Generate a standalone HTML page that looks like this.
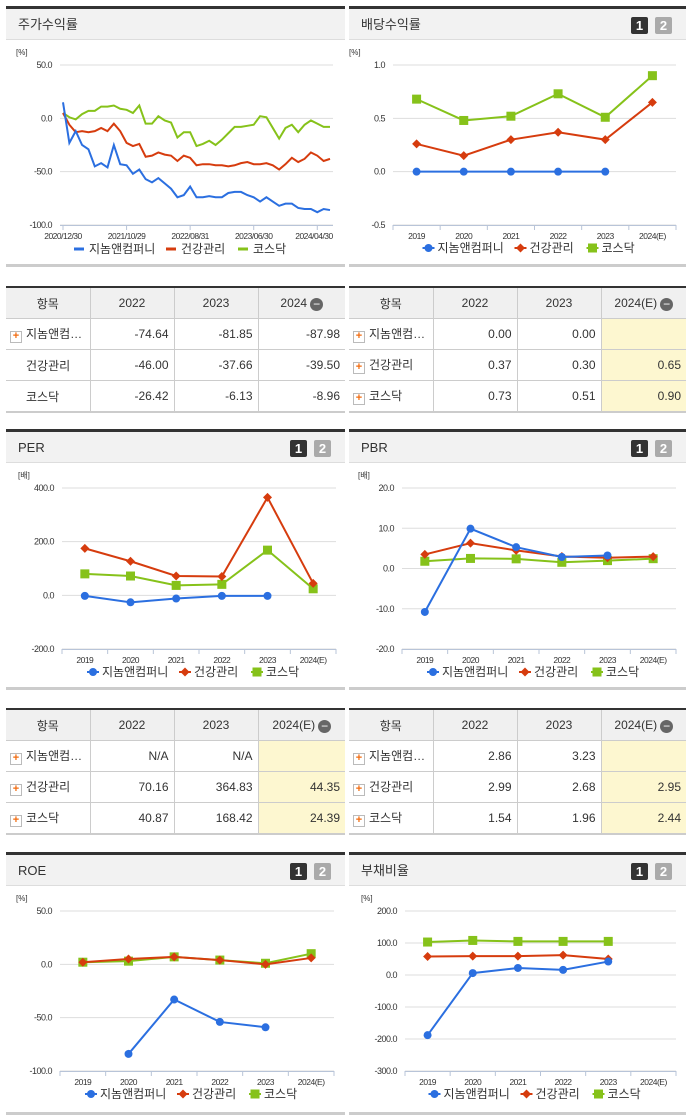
<!DOCTYPE html>
<html><head><meta charset="utf-8">
<style>
body{margin:0;width:691px;height:1115px;background:#fff;position:relative;overflow:hidden;font-family:"Liberation Sans","Noto Sans CJK KR",sans-serif;color:#333}
.pan{position:absolute;border-top:3px solid #333;background:#fff}
.hd{position:absolute;left:0;right:0;top:0;height:31px;background:#f2f2f2;border-bottom:1px solid #ddd;font-size:13px;line-height:31px;padding-left:12px;box-sizing:border-box}
.bt{position:absolute;top:8px;width:17px;height:17px;color:#fff;font-weight:bold;font-size:13px;line-height:17px;text-align:center;border-radius:2px}
.b1{right:38px;background:#333}.b2{right:14px;background:#aaa}
.pbot{position:absolute;left:0;right:0;bottom:0;height:3px;background:#ccc}
table{position:absolute;border-collapse:collapse;border-top:2px solid #333;border-bottom:2px solid #ccc;font-size:12px;table-layout:fixed}
td,th{border:1px solid #ccc;height:30px;padding:0 5px;font-weight:normal}
th{background:#f0f0f0;text-align:center}
td{text-align:right}
td.n{text-align:left;padding-left:4px;white-space:nowrap}
.pl{display:inline-block;width:10px;height:10px;border:1px solid #bbb;background:#fff;color:#f26b0f;font-size:11px;line-height:9px;text-align:center;margin-right:4px;vertical-align:-1px;font-weight:bold}
.mi{display:inline-block;width:13px;height:13px;border-radius:50%;background:#666;color:#fff;line-height:12px;font-size:12px;vertical-align:-1px;margin-left:3px}
.y{background:#fdf7d0}
tr td:first-child{border-left:none}tr td:last-child,tr th:last-child{border-right:none}tr th:first-child{border-left:none}
</style></head><body>

<div class="pan" style="left:6px;top:6px;width:339px;height:258px"><div class="hd">주가수익률</div><div class="pbot"></div></div>
<div class="pan" style="left:349px;top:6px;width:337px;height:258px"><div class="hd">배당수익률</div><div class="bt b1">1</div><div class="bt b2">2</div><div class="pbot"></div></div>

<div class="pan" style="left:6px;top:429px;width:339px;height:258px"><div class="hd">PER</div><div class="bt b1">1</div><div class="bt b2">2</div><div class="pbot"></div></div>
<div class="pan" style="left:349px;top:429px;width:337px;height:258px"><div class="hd">PBR</div><div class="bt b1">1</div><div class="bt b2">2</div><div class="pbot"></div></div>

<div class="pan" style="left:6px;top:852px;width:339px;height:260px"><div class="hd">ROE</div><div class="bt b1">1</div><div class="bt b2">2</div><div class="pbot"></div></div>
<div class="pan" style="left:349px;top:852px;width:337px;height:260px"><div class="hd">부채비율</div><div class="bt b1">1</div><div class="bt b2">2</div><div class="pbot"></div></div>

<table style="left:6px;top:286px;width:339px">
<colgroup><col style="width:84px"><col style="width:84px"><col style="width:84px"><col></colgroup>
<tr><th>항목</th><th>2022</th><th>2023</th><th>2024<span class="mi">−</span></th></tr>
<tr><td class="n"><span class="pl">+</span>지놈앤컴…</td><td>-74.64</td><td>-81.85</td><td>-87.98</td></tr>
<tr><td class="n" style="padding-left:20px">건강관리</td><td>-46.00</td><td>-37.66</td><td>-39.50</td></tr>
<tr><td class="n" style="padding-left:20px">코스닥</td><td>-26.42</td><td>-6.13</td><td>-8.96</td></tr>
</table>
<table style="left:349px;top:286px;width:337px">
<colgroup><col style="width:84px"><col style="width:84px"><col style="width:84px"><col></colgroup>
<tr><th>항목</th><th>2022</th><th>2023</th><th>2024(E)<span class="mi">−</span></th></tr>
<tr><td class="n"><span class="pl">+</span>지놈앤컴…</td><td>0.00</td><td>0.00</td><td class="y"></td></tr>
<tr><td class="n"><span class="pl">+</span>건강관리</td><td>0.37</td><td>0.30</td><td class="y">0.65</td></tr>
<tr><td class="n"><span class="pl">+</span>코스닥</td><td>0.73</td><td>0.51</td><td class="y">0.90</td></tr>
</table>
<table style="left:6px;top:708px;width:339px">
<colgroup><col style="width:84px"><col style="width:84px"><col style="width:84px"><col></colgroup>
<tr><th>항목</th><th>2022</th><th>2023</th><th>2024(E)<span class="mi">−</span></th></tr>
<tr><td class="n"><span class="pl">+</span>지놈앤컴…</td><td>N/A</td><td>N/A</td><td class="y"></td></tr>
<tr><td class="n"><span class="pl">+</span>건강관리</td><td>70.16</td><td>364.83</td><td class="y">44.35</td></tr>
<tr><td class="n"><span class="pl">+</span>코스닥</td><td>40.87</td><td>168.42</td><td class="y">24.39</td></tr>
</table>
<table style="left:349px;top:708px;width:337px">
<colgroup><col style="width:84px"><col style="width:84px"><col style="width:84px"><col></colgroup>
<tr><th>항목</th><th>2022</th><th>2023</th><th>2024(E)<span class="mi">−</span></th></tr>
<tr><td class="n"><span class="pl">+</span>지놈앤컴…</td><td>2.86</td><td>3.23</td><td class="y"></td></tr>
<tr><td class="n"><span class="pl">+</span>건강관리</td><td>2.99</td><td>2.68</td><td class="y">2.95</td></tr>
<tr><td class="n"><span class="pl">+</span>코스닥</td><td>1.54</td><td>1.96</td><td class="y">2.44</td></tr>
</table>

<svg id="sv" width="691" height="1115" style="position:absolute;left:0;top:0" xmlns="http://www.w3.org/2000/svg"></svg>

<script>
const NAMES=['지놈앤컴퍼니','건강관리','코스닥'];
const COLORS=['#2b6fe0','#d63c0e','#86c21a'];
const yearCats=['2019','2020','2021','2022','2023','2024(E)'];
// stock return (%)
const stockDates=['2020/12/30','2021/10/29','2022/08/31','2023/06/30','2024/04/30'];
const stockDateIdx=[0,10,20,30,40];
const stockJinome=[15,-23,-12,-25,-29,-45,-42,-46,-25,-43,-44,-52,-48,-57,-60,-56,-61,-66,-74,-72,-64,-74,-74,-73,-74,-74,-70,-69,-69,-72,-74,-78,-74,-78,-82,-80,-80,-84,-85,-85,-88,-85,-86];
const stockHealth=[5,-6,-13,-12,-13,-12,-9,-12,-5,-12,-23,-26,-24,-36,-35,-32,-34,-35,-40,-35,-37,-44,-43,-43,-44,-44,-45,-44,-42,-41,-43,-43,-42,-44,-48,-43,-37,-41,-38,-32,-35,-40,-38];
const stockKosdaq=[5,1,-1,4,7,7,11,11,12,9,8,5,12,-5,-5,2,-2,-4,-18,-13,-13,-26,-24,-21,-25,-20,-14,-8,-8,-7,-6,2,1,-9,-19,-9,-6,-13,-6,-2,-5,-8,-8];
const stockTicks=[50,0,-50,-100];
// dividend yield (%)
const divJinome=[0,0,0,0,0,null];
const divHealth=[0.26,0.15,0.30,0.37,0.30,0.65];
const divKosdaq=[0.68,0.48,0.52,0.73,0.51,0.90];
const divTicks=[1.0,0.5,0.0,-0.5];
// PER
const perJinome=[-2,-26,-12,-2,-2,null];
const perHealth=[175,127,72,70.16,364.83,44.35];
const perKosdaq=[80,72,37,40.87,168.42,24.39];
const perTicks=[400,200,0,-200];
// PBR
const pbrJinome=[-10.8,9.9,5.3,2.86,3.23,null];
const pbrHealth=[3.5,6.3,4.5,2.99,2.68,2.95];
const pbrKosdaq=[1.8,2.5,2.4,1.54,1.96,2.44];
const pbrTicks=[20,10,0,-10,-20];
// ROE
const roeJinome=[null,-84,-33,-54,-59,null];
const roeHealth=[2,5,7,4,0,6];
const roeKosdaq=[2,3,7,4,1,10];
const roeTicks=[50,0,-50,-100];
// debt ratio
const debtJinome=[-188,6,22,16,42,null];
const debtHealth=[58,59,59,62,50,null];
const debtKosdaq=[103,108,105,105,105,null];
const debtTicks=[200,100,0,-100,-200,-300];

const sv=document.getElementById('sv');
const NS='http://www.w3.org/2000/svg';
function el(t,a,txt){const e=document.createElementNS(NS,t);for(const k in a)e.setAttribute(k,a[k]);if(txt!=null)e.textContent=txt;sv.appendChild(e);return e;}
function marker(i,x,y,c){let m;
 if(i===0)m=el('circle',{cx:x,cy:y,r:4,fill:c});
 else if(i===1)m=el('path',{d:`M${x} ${y-4.5}L${x+4.5} ${y}L${x} ${y+4.5}L${x-4.5} ${y}Z`,fill:c});
 else m=el('rect',{x:x-4.5,y:y-4.5,width:9,height:9,fill:c});
 return m;}
function frame(c,unit,ticks,min,max){
 const ys=v=>c.top+(max-v)/(max-min)*(c.bot-c.top);
 const u=el('text',{x:c.x0-44,y:c.top-10,'font-size':8,fill:'#333'},unit);
 
 
 ticks.forEach(t=>{const y=ys(t);
  const g=el('line',{x1:c.x0,x2:c.x1,y1:y,y2:y,stroke:'#ddd','stroke-width':1});
  
  
  const lb=el('text',{x:c.x0-8,y:y+3,'font-size':9,'text-anchor':'end',fill:'#333','letter-spacing':'-0.5'},t.toFixed(1));
  
  });
 el('line',{x1:c.x0,x2:c.x1,y1:c.bot+0.5,y2:c.bot+0.5,stroke:'#b8c4d8','stroke-width':1});
 return ys;}
function legend(cx,y,lineStyle){
 const w=[92,72,52];let x=cx-108;
 NAMES.forEach((n,i)=>{
  if(lineStyle)el('line',{x1:x,x2:x+10,y1:y-4,y2:y-4,stroke:COLORS[i],'stroke-width':3});
  else{el('line',{x1:x,x2:x+12,y1:y-4,y2:y-4,stroke:COLORS[i],'stroke-width':2});marker(i,x+6,y-4,COLORS[i]);}
  const t=el('text',{x:x+15,y:y,'font-size':12,fill:'#333'},n);
  
  
  x+=w[i];});}
function catChart(c,unit,ticks,min,max,series){
 const ys=frame(c,unit,ticks,min,max);
 const bw=(c.x1-c.x0)/yearCats.length;
 const xs=i=>c.x0+bw*(i+0.5);
 for(let i=0;i<=yearCats.length;i++)el('line',{x1:c.x0+bw*i,x2:c.x0+bw*i,y1:c.bot,y2:c.bot+5,stroke:'#b8c4d8'});
 yearCats.forEach((k,i)=>{const t=el('text',{x:xs(i),y:c.bot+14,'font-size':8.5,'text-anchor':'middle',fill:'#333','letter-spacing':'-0.5'},k);
  
  });
 [2,1,0].forEach(si=>{const vals=series[si];let d='';
  vals.forEach((v,i)=>{if(v==null)return;d+=(d?'L':'M')+xs(i)+' '+ys(v);});
  const p=el('path',{d:d,fill:'none',stroke:COLORS[si],'stroke-width':2});
  
  
  vals.forEach((v,i)=>{if(v==null)return;const m=marker(si,xs(i),ys(v),COLORS[si]);
   
   });});
 legend((c.x0+c.x1)/2-4,c.bot+27,false);}

// stock chart
(function(){const c={x0:60,x1:333,top:65,bot:225};
 const ys=frame(c,'[%]',stockTicks,-100,50);
 const n=stockJinome.length,px0=63,px1=330;
 const xs=i=>px0+(px1-px0)*i/(n-1);
 stockDates.forEach((d,k)=>{const x=xs(stockDateIdx[k]);
  el('line',{x1:x,x2:x,y1:c.bot,y2:c.bot+5,stroke:'#b8c4d8'});
  const t=el('text',{x:Math.min(x,314),y:c.bot+14,'font-size':8.5,'text-anchor':'middle',fill:'#333','letter-spacing':'-0.5'},d);
  
  });
 [stockKosdaq,stockHealth,stockJinome].forEach((vals,j)=>{const si=2-j;
  const d=vals.map((v,i)=>(i?'L':'M')+xs(i)+' '+ys(v)).join('');
  const p=el('path',{d:d,fill:'none',stroke:COLORS[si],'stroke-width':2});
  
  });
 legend(182,253,true);})();

catChart({x0:393,x1:676,top:65,bot:225},'[%]',divTicks,-0.5,1.0,[divJinome,divHealth,divKosdaq]);
catChart({x0:62,x1:336,top:488,bot:649},'[배]',perTicks,-200,400,[perJinome,perHealth,perKosdaq]);
catChart({x0:402,x1:676,top:488,bot:649},'[배]',pbrTicks,-20,20,[pbrJinome,pbrHealth,pbrKosdaq]);
catChart({x0:60,x1:334,top:911,bot:1071},'[%]',roeTicks,-100,50,[roeJinome,roeHealth,roeKosdaq]);
catChart({x0:405,x1:676,top:911,bot:1071},'[%]',debtTicks,-300,200,[debtJinome,debtHealth,debtKosdaq]);
</script>
</body></html>
